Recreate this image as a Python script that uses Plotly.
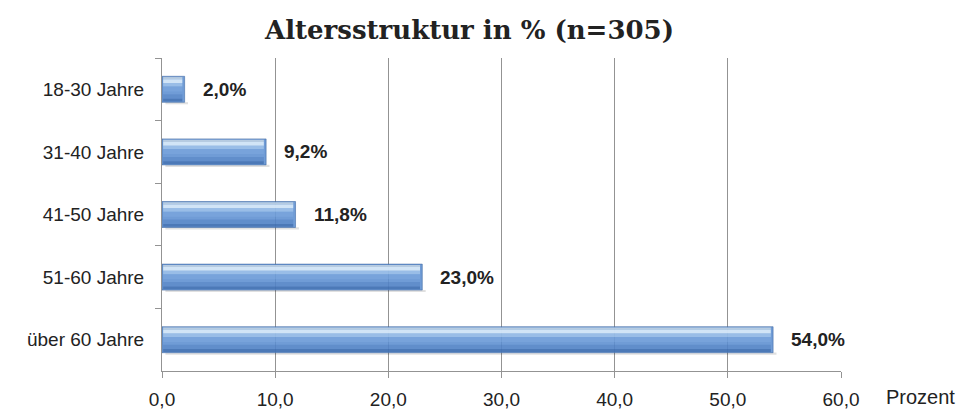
import plotly.graph_objects as go

categories = ["18-30 Jahre", "31-40 Jahre", "41-50 Jahre", "51-60 Jahre", "über 60 Jahre"]
values = [2.0, 9.2, 11.8, 23.0, 54.0]
x_ticks = [0, 10, 20, 30, 40, 50, 60]
x_tick_labels = ["0,0", "10,0", "20,0", "30,0", "40,0", "50,0", "60,0"]

labels = [f"{v:.1f}%".replace(".", ",") for v in values]

fig = go.Figure()

# faint shadow under each bar
fig.add_trace(go.Bar(
    y=categories, x=values, base=0.3, orientation="h",
    width=0.035, offset=0.205,
    marker=dict(color="rgba(0,0,0,0.12)", line=dict(width=0)),
    hoverinfo="skip", showlegend=False,
))
# main bar
fig.add_trace(go.Bar(
    y=categories, x=values, orientation="h", width=0.415,
    marker=dict(color="rgba(92,142,208,0.88)", line=dict(color="rgba(60,100,160,0.8)", width=0.7)),
    hoverinfo="skip", showlegend=False,
))
# glossy layers (top -> bottom)
gloss = [
    (-0.195, 0.035, "rgba(190,208,226,0.9)"),
    (-0.16, 0.06, "rgba(222,238,250,0.88)"),
    (-0.10, 0.055, "rgba(175,208,240,0.65)"),
    (-0.045, 0.08, "rgba(135,178,228,0.35)"),
    (0.08, 0.07, "rgba(62,110,180,0.3)"),
    (0.15, 0.045, "rgba(48,92,158,0.55)"),
]
for off, w, col in gloss:
    fig.add_trace(go.Bar(
        y=categories, x=[v - 0.3 for v in values], base=0.1, orientation="h",
        width=w, offset=off,
        marker=dict(color=col, line=dict(width=0)),
        hoverinfo="skip", showlegend=False,
    ))

for c, v, t in zip(categories, values, labels):
    fig.add_annotation(
        x=v, y=c, text=f"<b>{t}</b>", showarrow=False,
        xanchor="left", xshift=16, yshift=0,
        font=dict(family="Liberation Sans, Arial", size=19, color="#222222"),
    )

fig.add_annotation(
    x=1, y=0, xref="paper", yref="paper", text="Prozent", showarrow=False,
    xanchor="left", yanchor="middle", xshift=43, yshift=-26,
    font=dict(family="Liberation Sans, Arial", size=20, color="#222222"),
)

fig.update_layout(
    width=970, height=412,
    margin=dict(l=162, r=129, t=58, b=41),
    paper_bgcolor="white", plot_bgcolor="white",
    barmode="overlay",
    title=dict(
        text="<b>Altersstruktur in % (n=305)</b>",
        x=0.484, xanchor="center", y=0.928, yanchor="middle",
        font=dict(family="DejaVu Serif, Liberation Serif, serif", size=26, color="#222222"),
    ),
    xaxis=dict(
        range=[0, 60], tickvals=x_ticks, ticktext=x_tick_labels,
        showgrid=True, gridcolor="#939393", gridwidth=1,
        showline=True, linecolor="#939393", linewidth=1,
        ticks="outside", ticklen=6, tickcolor="#939393",
        ticklabelstandoff=5, automargin=False,
        tickfont=dict(family="Liberation Sans, Arial", size=19, color="#222222"),
        zeroline=False, fixedrange=True,
    ),
    yaxis=dict(
        categoryorder="array", categoryarray=categories, autorange="reversed",
        showline=True, linecolor="#939393", linewidth=1,
        ticks="outside", ticklen=6, tickcolor="#939393", tickson="boundaries",
        ticklabelstandoff=13, automargin=False,
        tickfont=dict(family="Liberation Sans, Arial", size=19, color="#222222"),
        showgrid=False, fixedrange=True,
    ),
)

fig.write_html("out.html", config={"displayModeBar": False},
               post_script="document.body.style.margin='0';")
